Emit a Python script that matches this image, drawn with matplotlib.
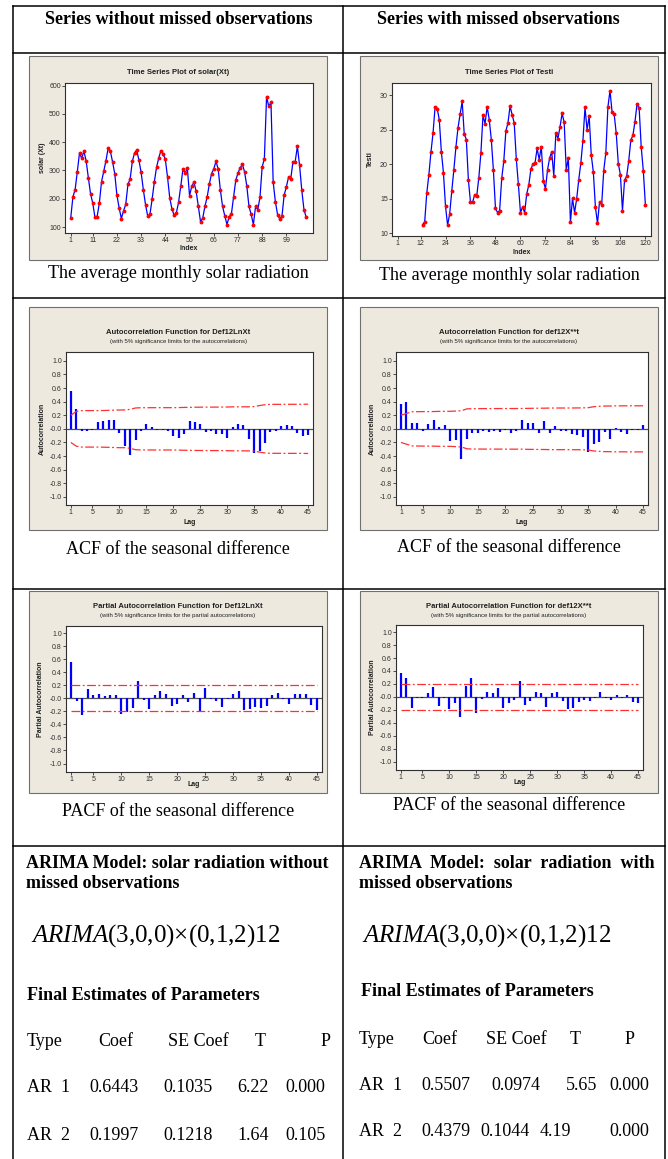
import matplotlib.pyplot as plt
import numpy as np
from matplotlib.patches import Rectangle

W, H = 668, 1159

# ---- data ----
solar = [132, 207, 232, 296, 362, 343, 368, 334, 275, 218, 185, 135, 137, 184, 260, 297,
         334, 378, 368, 331, 289, 212, 168, 130, 157, 180, 251, 270, 332, 362, 372, 336,
         293, 232, 179, 138, 145, 199, 260, 311, 344, 370, 358, 339, 276, 203, 164, 141,
         150, 187, 244, 305, 290, 308, 211, 244, 259, 226, 173, 118, 132, 174, 206, 252,
         289, 305, 332, 306, 231, 173, 140, 109, 137, 145, 206, 265, 291, 309, 322, 295,
         246, 173, 145, 109, 173, 161, 205, 313, 341, 561, 526, 541, 259, 190, 144, 128,
         139, 213, 242, 277, 271, 331, 331, 385, 318, 230, 161, 135]
testi_first = 13
testi = [11.26, 11.65, 15.83, 18.45, 21.75, 24.5, 28.35, 28.1, 26.5, 21.85, 18.8, 13.93,
         11.17, 12.8, 16.1, 19.17, 22.5, 25.3, 27.23, 29.13, 24.4, 23.6, 17.7, 14.5,
         14.5, 15.6, 15.4, 18.05, 21.65, 27.1, 25.9, 28.35, 26.5, 23.6, 19.17, 13.6,
         13.0, 13.3, 17.96, 20.5, 24.85, 26.0, 28.45, 27.2, 26.0, 20.8, 17.1, 13.0,
         13.8, 13.0, 15.7, 17.0, 19.27, 20.05, 20.2, 22.3, 20.7, 22.57, 17.57, 16.45,
         19.2, 20.9, 21.8, 18.35, 24.56, 23.74, 25.43, 27.38, 26.1, 19.17, 20.9, 11.6,
         15.05, 13.0, 15.0, 17.77, 20.2, 23.45, 28.25, 25.0, 27.0, 21.36, 18.9, 13.8,
         11.45, 14.6, 14.1, 19.1, 21.65, 28.3, 30.7, 27.6, 27.3, 24.5, 20.1, 18.5,
         13.3, 17.7, 18.25, 20.5, 23.5, 24.2, 26.2, 28.75, 28.2, 22.5, 19.1, 14.15]

acf_solar = [0.56, 0.29, -0.035, -0.03, -0.01, 0.10, 0.12, 0.135, 0.13, -0.06, -0.25, -0.39,
             -0.16, -0.035, 0.065, 0.025, -0.01, -0.01, -0.03, -0.10, -0.14, -0.075, 0.12,
             0.095, 0.065, -0.045, -0.025, -0.075, -0.08, -0.13, 0.02, 0.075, 0.05, -0.15,
             -0.36, -0.33, -0.21, -0.045, -0.03, 0.04, 0.05, 0.04, -0.06, -0.10, -0.095]
acf_testi = [0.37, 0.39, 0.08, 0.09, -0.03, 0.065, 0.13, 0.02, 0.055, -0.175, -0.16, -0.44,
             -0.145, -0.055, -0.065, -0.03, -0.05, -0.03, -0.05, -0.02, -0.055, -0.03, 0.125,
             0.09, 0.09, -0.055, 0.115, -0.065, 0.04, -0.03, -0.035, -0.075, -0.095, -0.125,
             -0.34, -0.22, -0.19, -0.05, -0.145, 0.015, -0.045, -0.07, -0.01, -0.01, 0.06]
pacf_solar = [0.56, -0.035, -0.255, 0.14, 0.055, 0.06, 0.035, 0.055, 0.055, -0.245, -0.21,
              -0.155, 0.265, -0.03, -0.17, 0.05, 0.12, 0.065, -0.12, -0.09, 0.05, -0.055,
              0.075, -0.195, 0.155, -0.01, -0.045, -0.135, -0.01, 0.065, 0.11, -0.175, -0.16,
              -0.135, -0.145, -0.11, 0.055, 0.075, -0.01, -0.085, 0.06, 0.065, 0.07, -0.105,
              -0.185]
pacf_testi = [0.37, 0.29, -0.17, -0.01, -0.01, 0.06, 0.15, -0.14, -0.01, -0.185, -0.10,
              -0.315, 0.175, 0.285, -0.245, -0.04, 0.08, 0.055, 0.13, -0.165, -0.10, -0.055,
              0.24, -0.12, -0.06, 0.08, 0.065, -0.16, 0.055, 0.07, -0.06, -0.185, -0.165,
              -0.085, -0.05, -0.06, -0.01, 0.08, -0.01, -0.05, 0.025, -0.01, 0.035, -0.075,
              -0.095]
n_diff = 96   # observations left after the seasonal difference

param_types = ['AR  1', 'AR  2']
coef_left = ['0.6443', '0.1997']
se_left = ['0.1035', '0.1218']
t_left = ['6.22', '1.64']
p_left = ['0.000', '0.105']
coef_right = ['0.5507', '0.4379']
se_right = ['0.0974', '0.1044']
t_right = ['5.65', '4.19']
p_right = ['0.000', '0.000']

SERIF = 'Liberation Serif'
SANS = 'Liberation Sans'
BEIGE = '#EDE9DF'
FS = 13
plt.rcParams['mathtext.fontset'] = 'custom'
plt.rcParams['mathtext.it'] = 'Liberation Serif:italic'
plt.rcParams['mathtext.rm'] = 'Liberation Serif'

fig = plt.figure(figsize=(W / 100, H / 100), dpi=100)
base = fig.add_axes([0, 0, 1, 1], zorder=0)
base.set_xlim(0, W)
base.set_ylim(H, 0)
base.axis('off')


def px_axes(x0, y0, x1, y1):
    return fig.add_axes([x0 / W, 1 - y1 / H, (x1 - x0) / W, (y1 - y0) / H], zorder=2)


def panel(x0, y0, x1, y1):
    base.add_patch(Rectangle((x0, y0), x1 - x0, y1 - y0, facecolor=BEIGE,
                             edgecolor='#707070', lw=0.8))


def style(ax):
    for s in ax.spines.values():
        s.set_color('#303030')
        s.set_linewidth(0.8)
    ax.tick_params(direction='out', length=2, width=0.6, labelsize=5, pad=1,
                   colors='#303030')
    for lab in ax.get_xticklabels() + ax.get_yticklabels():
        lab.set_family(SANS)


def small(x, y, s, **kw):
    base.text(x, y, s, family=SANS, ha='center', va='center', color='#202020', **kw)


# ---- table frame ----
line_kw = dict(color='black', lw=1.1)
for yy in [6, 53, 298, 589, 846]:
    base.plot([13, 665], [yy, yy], **line_kw)
for xx in [13, 343, 665]:
    base.plot([xx, xx], [6, H], **line_kw)

base.text(179, 19, 'Series without missed observations', family=SERIF, weight='bold',
          fontsize=FS, ha='center', va='center')
base.text(498, 19, 'Series with missed observations', family=SERIF, weight='bold',
          fontsize=FS, ha='center', va='center')

# ---- time series plots ----
specs_ts = [
    dict(panel=(29, 56, 327, 260), ax=(65, 83, 313, 233), x=np.arange(1, len(solar) + 1),
         y=solar, title='Time Series Plot of solar(Xt)', ylabel='solar (Xt)',
         xticks=[1] + list(range(11, 100, 11)), yticks=np.arange(100, 601, 100),
         xlim=(-1.6, 111.1), ylim=(79, 609), ylx=43, xly=249, cap_y=273),
    dict(panel=(360, 56, 658, 260), ax=(392, 83, 651, 236),
         x=np.arange(testi_first, testi_first + len(testi)), y=testi,
         title='Time Series Plot of Testi', ylabel='Testi',
         xticks=[1] + list(range(12, 121, 12)), yticks=np.arange(10, 31, 5),
         xlim=(-1.7, 122.7), ylim=(9.6, 31.8), ylx=370, xly=252, cap_y=276),
]
for sp in specs_ts:
    panel(*sp['panel'])
    ax = px_axes(*sp['ax'])
    ax.plot(sp['x'], sp['y'], color='#0000FF', lw=0.9, marker='o', ms=1.8,
            mfc='#FF0000', mec='#FF0000')
    ax.set_xticks(sp['xticks'])
    ax.set_yticks(sp['yticks'])
    ax.set_xlim(*sp['xlim'])
    ax.set_ylim(*sp['ylim'])
    style(ax)
    px0, py0, px1, py1 = sp['panel']
    ax0, ay0, ax1, ay1 = sp['ax']
    small((px0 + px1) / 2, 73, sp['title'], fontsize=5.5, weight='bold')
    small((ax0 + ax1) / 2, sp['xly'], 'Index', fontsize=5, weight='bold')
    small(sp['ylx'], (ay0 + ay1) / 2, sp['ylabel'], fontsize=5, weight='bold', rotation=90)
    base.text((px0 + px1) / 2, sp['cap_y'], 'The average monthly solar radiation',
              family=SERIF, fontsize=FS, ha='center', va='center')

# ---- ACF / PACF plots ----
lags = np.arange(1, 46)


def bartlett(r):
    r = np.asarray(r)
    cum = np.concatenate([[0], np.cumsum(r ** 2)[:-1]])
    return 1.96 * np.sqrt((1 + 2 * cum) / n_diff)


specs_cf = [
    dict(panel=(29, 307, 327, 530), ax=(66, 352, 313, 505), r=acf_solar, lim=bartlett(acf_solar),
         title='Autocorrelation Function for Def12LnXt',
         sub='(with 5% significance limits for the autocorrelations)',
         ylabel='Autocorrelation', ty=332, ylx=42, lagy=522, ylim=(-1.12, 1.13),
         cap='ACF of the seasonal difference', cap_y=550),
    dict(panel=(360, 307, 658, 530), ax=(396, 352, 648, 505), r=acf_testi, lim=bartlett(acf_testi),
         title='Autocorrelation Function for def12X**t',
         sub='(with 5% significance limits for the autocorrelations)',
         ylabel='Autocorrelation', ty=332, ylx=372, lagy=522, ylim=(-1.12, 1.13),
         cap='ACF of the seasonal difference', cap_y=547),
    dict(panel=(29, 591, 327, 793), ax=(66, 626, 322, 772), r=pacf_solar,
         lim=np.full(45, 1.96 / np.sqrt(n_diff)),
         title='Partial Autocorrelation Function for Def12LnXt',
         sub='(with 5% significance limits for the partial autocorrelations)',
         ylabel='Partial Autocorrelation', ty=606, ylx=41, lagy=784, ylim=(-1.13, 1.11),
         cap='PACF of the seasonal difference', cap_y=811),
    dict(panel=(360, 591, 658, 793), ax=(396, 625, 643, 770), r=pacf_testi,
         lim=np.full(45, 1.96 / np.sqrt(n_diff)),
         title='Partial Autocorrelation Function for def12X**t',
         sub='(with 5% significance limits for the partial autocorrelations)',
         ylabel='Partial Autocorrelation', ty=606, ylx=372, lagy=782, ylim=(-1.13, 1.11),
         cap='PACF of the seasonal difference', cap_y=806),
]
for sp in specs_cf:
    panel(*sp['panel'])
    ax = px_axes(*sp['ax'])
    ax.axhline(0, color='#505050', lw=0.9, zorder=1)
    ax.vlines(lags, 0, sp['r'], colors='#0000FF', lw=1.6, zorder=2)
    ax.plot(lags, sp['lim'], color='#FF3030', lw=0.9, ls=(0, (7, 2, 1.5, 2)), zorder=3)
    ax.plot(lags, -sp['lim'], color='#FF3030', lw=0.9, ls=(0, (7, 2, 1.5, 2)), zorder=3)
    ax.set_xticks([1] + list(range(5, 46, 5)))
    ax.set_yticks(np.round(np.arange(-1.0, 1.01, 0.2), 1))
    ax.set_yticklabels(['%.1f' % v for v in np.arange(-1.0, 1.01, 0.2)])
    ax.set_xlim(0.1, 45.9)
    ax.set_ylim(*sp['ylim'])
    style(ax)
    px0, py0, px1, py1 = sp['panel']
    ax0, ay0, ax1, ay1 = sp['ax']
    small((px0 + px1) / 2, sp['ty'], sp['title'], fontsize=5.5, weight='bold')
    small((px0 + px1) / 2, sp['ty'] + 10, sp['sub'], fontsize=4.3)
    small((ax0 + ax1) / 2, sp['lagy'], 'Lag', fontsize=5, weight='bold')
    small(sp['ylx'], (ay0 + ay1) / 2, sp['ylabel'], fontsize=5, weight='bold', rotation=90)
    base.text((px0 + px1) / 2, sp['cap_y'], sp['cap'], family=SERIF, fontsize=FS,
              ha='center', va='center')

# ---- ARIMA model row ----
def bold(x, y, s):
    base.text(x, y, s, family=SERIF, weight='bold', fontsize=FS, ha='left', va='center')


def plain(x, y, s):
    base.text(x, y, s, family=SERIF, fontsize=FS, ha='left', va='center')


bold(26, 864, 'ARIMA Model: solar radiation without')
bold(26, 884, 'missed observations')
bold(359, 864, 'ARIMA  Model:  solar  radiation  with')
bold(359, 884, 'missed observations')
formula = r'$\mathit{ARIMA}$(3,0,0)$\times$(0,1,2)12'
base.text(31, 936, formula, family=SERIF, fontsize=18, ha='left', va='center')
base.text(362, 936, formula, family=SERIF, fontsize=18, ha='left', va='center')
bold(27, 996, 'Final Estimates of Parameters')
bold(361, 992, 'Final Estimates of Parameters')

# header rows
for x, s in zip([27, 98, 168, 255, 321], ['Type', 'Coef', 'SE Coef', 'T', 'P']):
    plain(x, 1042, s)
for x, s in zip([359, 422, 486, 570, 625], ['Type', 'Coef', 'SE Coef', 'T', 'P']):
    plain(x, 1039, s)

row_y_left = [1088, 1135]
row_y_right = [1086, 1132]
for i in range(2):
    y = row_y_left[i]
    for x, s in zip([27, 89, 163, 237, 285],
                    [param_types[i], coef_left[i], se_left[i], t_left[i], p_left[i]]):
        plain(x, y, s)
se_x_right = [491, 480]
t_x_right = [566, 540]
for i in range(2):
    y = row_y_right[i]
    for x, s in zip([359, 421, se_x_right[i], t_x_right[i], 609],
                    [param_types[i], coef_right[i], se_right[i], t_right[i], p_right[i]]):
        plain(x, y, s)

fig.savefig('out.png', dpi=100, facecolor='white')
